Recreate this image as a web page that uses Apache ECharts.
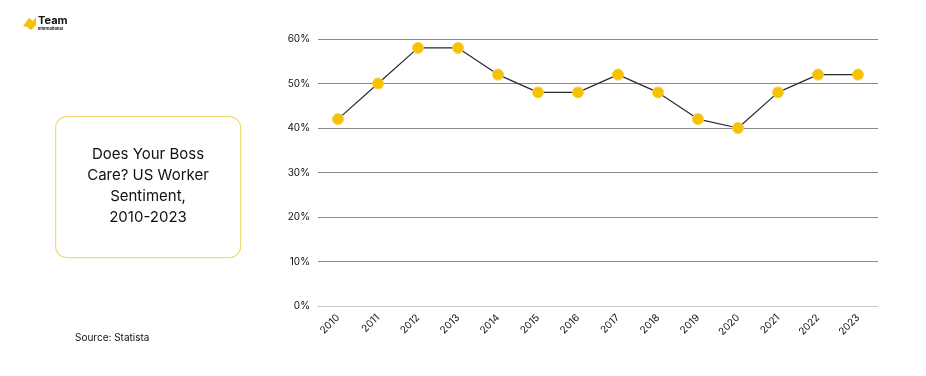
<!DOCTYPE html>
<html>
<head>
<meta charset="utf-8">
<script src="https://cdn.jsdelivr.net/npm/echarts@6.0.0/dist/echarts.min.js"></script>
<style>
  html, body { margin: 0; padding: 0; background: #fff; }
  #chart { width: 926px; height: 376px; }
</style>
</head>
<body>
<div id="chart"></div>
<script>
  // data
  const years = ['2010', '2011', '2012', '2013', '2014', '2015', '2016',
                 '2017', '2018', '2019', '2020', '2021', '2022', '2023']
  const caresPct = [42, 50, 58, 58, 52, 48, 48, 52, 48, 42, 40, 48, 52, 52]
  const titleLines = ['Does Your Boss', 'Care? US Worker', 'Sentiment,', '2010-2023']
  const sourceText = 'Source: Statista'

  const yellow = '#F5C100'
  const font = 'Inter, "Noto Sans", sans-serif'

  const chart = echarts.init(document.getElementById('chart'), null, {renderer: 'canvas'})

  chart.setOption({
    animation: false,
    backgroundColor: '#fff',
    grid: {left: 318, right: 48, top: 39, bottom: 70},
    xAxis: {
      type: 'category',
      data: years,
      boundaryGap: true,
      axisLine: {show: true, lineStyle: {color: '#c8c8c8', width: 1}},
      axisTick: {show: false},
      axisLabel: {rotate: 45, color: '#111', fontSize: 10, fontFamily: font, margin: 10},
    },
    yAxis: {
      type: 'value',
      min: 0,
      max: 60,
      interval: 10,
      axisLine: {show: false},
      axisTick: {show: false},
      axisLabel: {formatter: '{value}%', color: '#111', fontSize: 10, fontFamily: font, margin: 8},
      splitLine: {lineStyle: {color: '#8a8a8a', width: 1}},
    },
    series: [{
      type: 'line',
      data: caresPct,
      symbol: 'circle',
      symbolSize: 11,
      lineStyle: {color: '#2a2a2a', width: 1.2},
      itemStyle: {color: yellow, borderColor: '#f7d34a', borderWidth: 1},
      z: 3,
    }],
    graphic: [
      // title card
      {
        type: 'rect',
        left: 55, top: 116,
        shape: {width: 185, height: 141, r: 11},
        style: {fill: '#fff', stroke: '#f1db7a', lineWidth: 1.2},
      },
      {
        type: 'text',
        x: 148, y: 186,
        style: {
          text: titleLines.join('\n'),
          fill: '#111',
          font: '15px ' + font,
          lineHeight: 21,
          align: 'center',
          verticalAlign: 'middle',
        },
      },
      {
        type: 'text',
        left: 75, top: 333,
        style: {text: sourceText, fill: '#111', font: '10px ' + font},
      },
      // logo
      {
        type: 'polygon',
        shape: {points: [[23, 26], [29, 18], [33, 21], [36, 17], [36, 25], [31, 30], [27, 27]]},
        style: {fill: yellow},
      },
      {
        type: 'text',
        left: 38, top: 15,
        style: {text: 'Team', fill: '#111', font: 'bold 11px ' + font},
      },
      {
        type: 'text',
        left: 38, top: 27,
        style: {text: 'International', fill: '#111', font: 'bold 4px ' + font},
      },
    ],
  })
</script>
</body>
</html>
